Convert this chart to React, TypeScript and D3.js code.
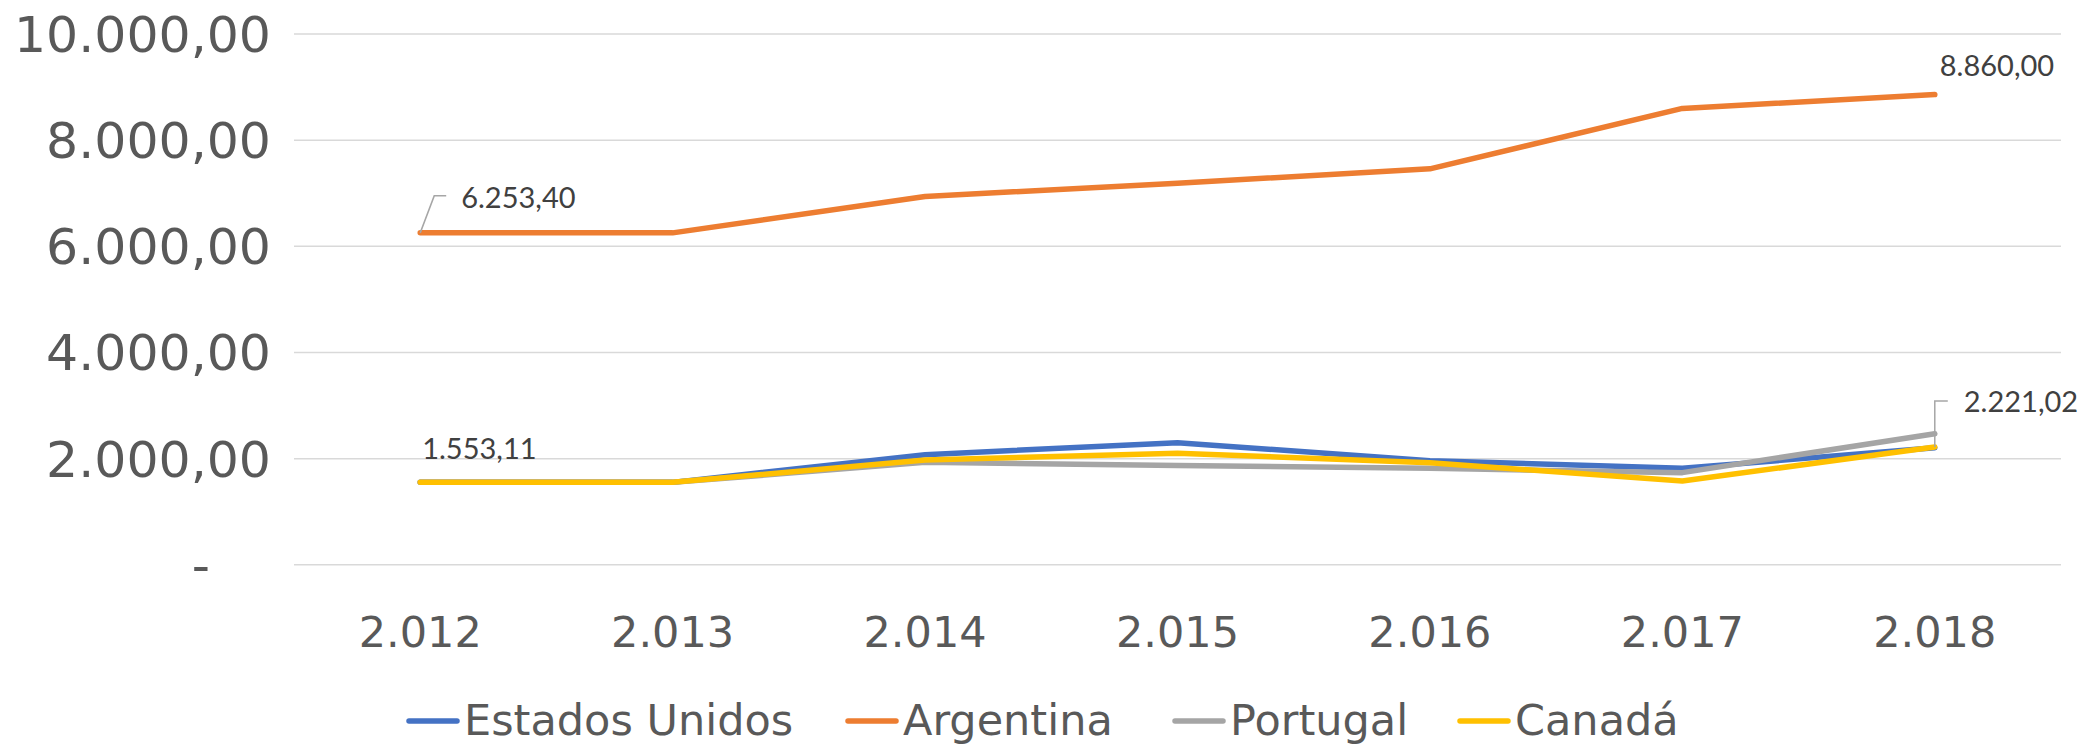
import React from "react";
import * as d3 from "d3";

const years = ["2.012", "2.013", "2.014", "2.015", "2.016", "2.017", "2.018"];
const estadosUnidos = [1553.11, 1553.11, 2074, 2301, 1961, 1817, 2205];
const argentina = [6253.4, 6253.4, 6940, 7190, 7460, 8598, 8860.0];
const portugal = [1553.11, 1553.11, 1930, 1870, 1818, 1736, 2470];
const canada = [1553.11, 1553.11, 1974, 2101, 1924, 1578, 2221.02];
const yTicks = [0, 2000, 4000, 6000, 8000, 10000];

const seriesNames = ["Estados Unidos", "Argentina", "Portugal", "Canadá"];
const seriesColors = ["#4472C4", "#ED7D31", "#A5A5A5", "#FFC000"];
const seriesValues = [estadosUnidos, argentina, portugal, canada];

const W = 2083;
const H = 744;

const locale = d3.formatLocale({
  decimal: ",",
  thousands: ".",
  grouping: [3],
  currency: ["", ""],
});
const fmt = locale.format(",.2f");

export default function App() {
  const x = d3.scaleBand<string>().domain(years).range([294, 2061]);
  const cx = (i: number) => (x(years[i]) as number) + x.bandwidth() / 2;
  const y = d3.scaleLinear().domain([0, 10000]).range([564.8, 34]);

  const line = d3
    .line<number>()
    .x((_, i) => cx(i))
    .y((d) => y(d));

  const axisFont = "DejaVu Sans";
  const labelFont = "Lato";
  const axisColor = "#595959";
  const labelColor = "#404040";

  const last = years.length - 1;

  // legend layout
  const legendX = [406, 845, 1172, 1457];

  return (
    <svg
      width={W}
      height={H}
      style={{ position: "absolute", left: 0, top: 0, background: "#fff" }}
    >
      <rect x={0} y={0} width={W} height={H} fill="#ffffff" />
      {/* gridlines */}
      {yTicks.map((t) => (
        <line
          key={"g" + t}
          x1={294}
          x2={2061}
          y1={y(t)}
          y2={y(t)}
          stroke="#D9D9D9"
          strokeWidth={1.5}
        />
      ))}
      {/* y labels */}
      {yTicks.map((t) => (
        <text
          key={"yl" + t}
          x={t === 0 ? 210 : 271}
          y={y(t) + 18}
          textAnchor="end"
          fontFamily={axisFont}
          fontSize={50.5}
          fill={axisColor}
        >
          {t === 0 ? "-" : fmt(t)}
        </text>
      ))}
      {/* x labels */}
      {years.map((yr, i) => (
        <text
          key={"xl" + yr}
          x={cx(i)}
          y={647}
          textAnchor="middle"
          fontFamily={axisFont}
          fontSize={43}
          fill={axisColor}
        >
          {yr}
        </text>
      ))}
      {/* lines */}
      {seriesValues.map((vals, si) => (
        <path
          key={"s" + si}
          d={line(vals) || ""}
          fill="none"
          stroke={seriesColors[si]}
          strokeWidth={5.5}
          strokeLinecap="round"
          strokeLinejoin="round"
        />
      ))}
      {/* leader lines */}
      <polyline
        points={`${cx(0)},${y(argentina[0])} ${cx(0) + 14},${y(argentina[0]) - 37} ${cx(0) + 26},${y(argentina[0]) - 37}`}
        fill="none"
        stroke="#A6A6A6"
        strokeWidth={1.5}
      />
      <polyline
        points={`${cx(last)},${y(canada[last])} ${cx(last)},${y(canada[last]) - 46} ${cx(last) + 13},${y(canada[last]) - 46}`}
        fill="none"
        stroke="#A6A6A6"
        strokeWidth={1.5}
      />
      {/* data labels */}
      <text
        x={cx(0) + 41}
        y={y(argentina[0]) - 25}
        fontFamily={labelFont}
        fontSize={29}
        fill={labelColor}
      >
        {fmt(argentina[0])}
      </text>
      <text
        x={cx(0) + 2}
        y={y(canada[0]) - 23}
        fontFamily={labelFont}
        fontSize={29}
        fill={labelColor}
      >
        {fmt(canada[0])}
      </text>
      <text
        x={cx(last) + 5}
        y={y(argentina[last]) - 19}
        fontFamily={labelFont}
        fontSize={29}
        fill={labelColor}
      >
        {fmt(argentina[last])}
      </text>
      <text
        x={cx(last) + 29}
        y={y(canada[last]) - 35}
        fontFamily={labelFont}
        fontSize={29}
        fill={labelColor}
      >
        {fmt(canada[last])}
      </text>
      {/* legend */}
      {seriesNames.map((name, i) => (
        <g key={"lg" + name}>
          <line
            x1={legendX[i] + 3}
            x2={legendX[i] + 51}
            y1={721}
            y2={721}
            stroke={seriesColors[i]}
            strokeWidth={5.5}
            strokeLinecap="round"
          />
          <text
            x={legendX[i] + 58}
            y={735}
            fontFamily={axisFont}
            fontSize={43}
            fill={axisColor}
          >
            {name}
          </text>
        </g>
      ))}
    </svg>
  );
}
